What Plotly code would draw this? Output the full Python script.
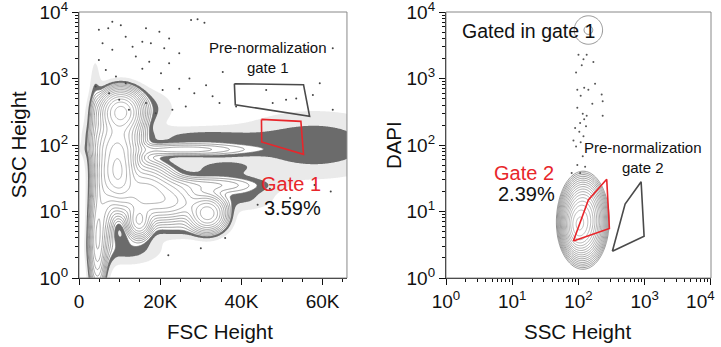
import numpy as np
import plotly.graph_objects as go

# ---------------- Left panel: FSC (K) vs log10 SSC populations
pop1_fsc_k  = [10.3, 9.5, 9.5, 16.0, 23.0, 14.8, 31.7, 26.0, 32.0, 4.5, 6.0]
pop1_logssc = [2.50, 1.60, 2.05, 1.30, 1.15, 0.85, 0.97, 1.93, 1.40, 0.55, 1.30]
pop1_sd_fsc = [2.6, 2.2, 3.0, 4.0, 4.0, 1.6, 2.4, 10.0, 8.0, 1.1, 1.5]
pop1_sd_log = [0.16, 0.25, 0.22, 0.22, 0.16, 0.13, 0.14, 0.06, 0.08, 0.40, 0.50]
pop1_weight = [1.0, 0.9, 0.45, 0.4, 0.25, 0.35, 0.45, 0.07, 0.06, 0.25, 0.2]

# low-density populations shown only as dots (outside the contours)
dots1_fsc_k  = [58.0, 30.0, 16.0, 12.0, 35.0, 4.0, 25.0, 40.0]
dots1_logssc = [2.00, 2.12, 2.55, 0.45, 1.65, 2.40, 0.75, 1.20]
dots1_sd_fsc = [12.0, 10.0, 4.5, 5.0, 6.0, 0.9, 5.0, 5.0]
dots1_sd_log = [0.30, 0.10, 0.18, 0.15, 0.10, 0.50, 0.10, 0.12]
dots1_weight = [0.024, 0.018, 0.018, 0.022, 0.018, 0.022, 0.017, 0.017]

# sparse outlier events (FSC, SSC)
out1_fsc = [8200, 10300, 7200, 16500, 19800, 27600, 29200, 30900, 22200, 15600, 17700, 21000,
            24700, 14000, 17300, 22200, 15600, 20200, 27200, 31300, 35400, 37400, 24700, 28400,
            32900, 34600, 38700, 46100, 47700, 51000, 53500, 57600, 59300, 62500, 62500, 56000,
            20600, 11500, 13200, 4900, 5800, 8200, 4900, 6600, 9100, 4100, 7400, 9900, 11500,
            12300, 16500, 18900, 23000, 26300, 47000, 52000, 58000, 62000, 44000, 30000, 22000, 36000]
out1_ssc = [7160, 6340, 5690, 5690, 5040, 7600, 7800, 6900, 4000, 3590, 3400, 2850,
            2400, 2140, 1790, 1700, 1410, 1200, 1000, 790, 1260, 2850, 705, 600,
            540, 430, 380, 675, 430, 480, 500, 565, 850, 2850, 340, 2700,
            675, 4270, 3000, 5400, 3400, 2700, 1900, 1350, 1070, 760, 600, 480, 850,
            340, 430, 300, 340, 380, 22, 16, 25, 20, 12.6, 2.8, 2.2, 4.0]

gate1_fsc = [44940, 54650, 55300, 45000, 44940]
gate1_ssc = [243, 227, 72.4, 111, 243]
pre1_fsc = [38270, 55300, 56800, 38500, 38270]
pre1_ssc = [836, 808, 270, 404, 836]

# ---------------- Right panel: log10 SSC vs log10 DAPI populations
pop2_logssc  = [2.07, 1.97, 2.15]
pop2_logdapi = [0.87, 0.77, 3.73]
pop2_sd_ssc  = [0.15, 0.10, 0.30]
pop2_sd_dapi = [0.28, 0.18, 0.30]
pop2_weight  = [0.8, 0.4, 0.0324]

out2_ssc = [100, 133, 119, 168, 112, 92, 178, 96, 122, 141, 108, 224, 162, 232, 96, 116,
            133, 122, 106, 232, 89, 130, 103, 119, 84, 108, 92, 116, 96, 126, 79, 106]
out2_dapi = [2290, 2290, 1950, 1780, 1585, 1230, 832, 676, 724, 676, 550, 575, 417, 457, 363, 295,
             275, 245, 214, 275, 180, 191, 158, 135, 117, 110, 95, 68, 50, 47, 38, 38]

gate2_ssc = [83.8, 141, 267, 293, 83.8]
gate2_dapi = [3.6, 14.9, 30.6, 5.57, 3.6]
pre2_ssc = [325, 506, 883, 979, 325]
pre2_dapi = [2.53, 12.9, 28.1, 4.26, 2.53]

decade_vals = [1, 10, 100, 1000, 10000]
decade_text = ["10<sup>0</sup>", "10<sup>1</sup>", "10<sup>2</sup>", "10<sup>3</sup>", "10<sup>4</sup>"]
# last x label of the right panel sits inside the frame edge in the reference
decade_text_x2 = decade_text[:-1] + ["10<sup>4</sup>\u00a0\u00a0\u00a0\u00a0"]
fsc_vals = [0, 20000, 40000, 60000]
fsc_text = ["0", "20K", "40K", "60K"]


def density(gx, gy, cx, cy, sx, sy, w):
    X, Y = np.meshgrid(gx, gy)
    D = np.zeros_like(X)
    for a, b, s, t, k in zip(cx, cy, sx, sy, w):
        D += k * np.exp(-0.5 * (((X - a) / s) ** 2 + ((Y - b) / t) ** 2))
    return D

gx1 = np.linspace(0, 66, 331)
gy1 = np.linspace(0, 4, 241)
Dc = density(gx1, gy1, pop1_fsc_k, pop1_logssc, pop1_sd_fsc, pop1_sd_log, pop1_weight)
Dd = density(gx1, gy1, dots1_fsc_k, dots1_logssc, dots1_sd_fsc, dots1_sd_log, dots1_weight)
Z1 = np.log10(Dc + Dd + 1e-9)
X1 = gx1 * 1000
Y1 = 10 ** gy1

gx2 = np.linspace(0, 4, 241)
gy2 = np.linspace(0, 4, 241)
Z2 = np.log10(density(gx2, gy2, pop2_logssc, pop2_logdapi, pop2_sd_ssc, pop2_sd_dapi, pop2_weight) + 1e-9)
X2 = 10 ** gx2
Y2 = 10 ** gy2

LOW, MID, TOP = -2.25, -1.82, -1.6
gray_lines = [[0, "#6a6a6a"], [1, "#a0a0a0"]]
FONT = "Liberation Sans, Arial, Helvetica, sans-serif"

fig = go.Figure()
# shaded where z > value (constraint '<' keeps the lower part unshaded)
for val, col in [(LOW, "rgba(140,140,140,0.18)"), (MID, "rgba(70,70,70,0.78)"), (TOP, "white")]:
    fig.add_trace(go.Contour(x=X1, y=Y1, z=Z1, contours=dict(type="constraint", operation="<", value=val),
                             fillcolor=col, line=dict(width=0), showscale=False, hoverinfo="skip",
                             xaxis="x", yaxis="y"))
fig.add_trace(go.Contour(x=X1, y=Y1, z=Z1, contours=dict(start=TOP, end=0.3, size=0.13, coloring="lines"),
                         colorscale=gray_lines, line=dict(width=0.7, smoothing=1.0), showscale=False,
                         hoverinfo="skip", xaxis="x", yaxis="y"))
fig.add_trace(go.Scatter(x=out1_fsc, y=out1_ssc, mode="markers", marker=dict(size=2, color="#444"),
                         hoverinfo="skip", xaxis="x", yaxis="y"))
fig.add_trace(go.Scatter(x=pre1_fsc, y=pre1_ssc, mode="lines", line=dict(color="#4a4a4a", width=1.6),
                         xaxis="x", yaxis="y"))
fig.add_trace(go.Scatter(x=gate1_fsc, y=gate1_ssc, mode="lines", line=dict(color="#e8262b", width=1.6),
                         xaxis="x", yaxis="y"))

fig.add_trace(go.Contour(x=X2, y=Y2, z=Z2, contours=dict(start=TOP, end=0.0, size=0.1, coloring="lines"),
                         colorscale=gray_lines, line=dict(width=0.7, smoothing=1.0), showscale=False,
                         hoverinfo="skip", xaxis="x2", yaxis="y2"))
fig.add_trace(go.Scatter(x=out2_ssc, y=out2_dapi, mode="markers", marker=dict(size=2, color="#555"),
                         hoverinfo="skip", xaxis="x2", yaxis="y2"))
fig.add_trace(go.Scatter(x=pre2_ssc, y=pre2_dapi, mode="lines", line=dict(color="#4a4a4a", width=1.6),
                         xaxis="x2", yaxis="y2"))
fig.add_trace(go.Scatter(x=gate2_ssc, y=gate2_dapi, mode="lines", line=dict(color="#e8262b", width=1.6),
                         xaxis="x2", yaxis="y2"))

minor_log = [k * 10 ** e for e in range(4) for k in range(2, 10)]
tickfont = dict(family=FONT, size=19, color="#111")
common = dict(showgrid=False, zeroline=False, showline=True, linecolor="#111", linewidth=1.3,
              ticks="outside", ticklen=6, tickwidth=1.2, tickcolor="#111", tickfont=tickfont,
              ticklabeloverflow="allow", automargin=False)
log_axis = dict(type="log", range=[0, 4.001], tickmode="array", tickvals=decade_vals,
                minor=dict(tickmode="array", tickvals=minor_log, ticks="outside", ticklen=3,
                           tickcolor="#111", tickwidth=1), **common)

fig.update_layout(
    width=721, height=347, margin=dict(l=79, r=10, t=12, b=69, autoexpand=False),
    paper_bgcolor="white", plot_bgcolor="white", showlegend=False,
    font=dict(family=FONT, color="#111"),
    xaxis=dict(domain=[0, 0.424], range=[0, 66000], tickmode="array", tickvals=fsc_vals, ticktext=fsc_text,
               minor=dict(dtick=5000, tick0=0, ticks="outside", ticklen=3, tickcolor="#111", tickwidth=1),
               anchor="y", **common),
    yaxis=dict(domain=[0, 1], anchor="x", ticktext=decade_text, **log_axis),
    xaxis2=dict(domain=[0.5807, 1.0], anchor="y2", ticktext=decade_text_x2, **log_axis),
    yaxis2=dict(domain=[0, 1], anchor="x2", ticktext=decade_text, **log_axis),
    shapes=[
        dict(type="rect", xref="x domain", yref="y domain", x0=0, x1=1, y0=0, y1=1,
             line=dict(color="#888", width=1), layer="above"),
        dict(type="rect", xref="x2 domain", yref="y2 domain", x0=0, x1=1, y0=0, y1=1,
             line=dict(color="#888", width=1), layer="above"),
    ],
)

ann = []
def txt(x, y, text, size, color="#111", xref="x", yref="y", angle=0):
    ann.append(dict(x=x, y=y, xref=xref, yref=yref, text=text, showarrow=False, textangle=angle,
                    font=dict(size=size, color=color, family=FONT),
                    xanchor="center", yanchor="middle"))

txt(46600, 3.31, "Pre-normalization<br>gate 1", 15)
txt(52300, 1.41, "Gate 1", 20, "#e8262b")
txt(52700, 1.05, "3.59%", 20)
txt(1.24, 3.71, "Gated in gate 1", 19.5, xref="x2", yref="y2")
txt(2.976, 1.82, "Pre-normalization<br>gate 2", 15, xref="x2", yref="y2")
txt(1.18, 1.58, "Gate 2", 20, "#e8262b", xref="x2", yref="y2")
txt(1.22, 1.26, "2.39%", 20, xref="x2", yref="y2")
txt(-0.096, 0.5, "SSC Height", 20.5, xref="paper", yref="paper", angle=-90)
txt(0.223, -0.203, "FSC Height", 20.5, xref="paper", yref="paper")
txt(0.497, 0.5, "DAPI", 20.5, xref="paper", yref="paper", angle=-90)
txt(0.788, -0.203, "SSC Height", 20.5, xref="paper", yref="paper")
fig.update_layout(annotations=ann)

# remove the page's default 8px body margin so the figure sits at the window's corner
fig.write_html("out.html", config={"displayModeBar": False},
               post_script="document.body.style.margin='0';")
